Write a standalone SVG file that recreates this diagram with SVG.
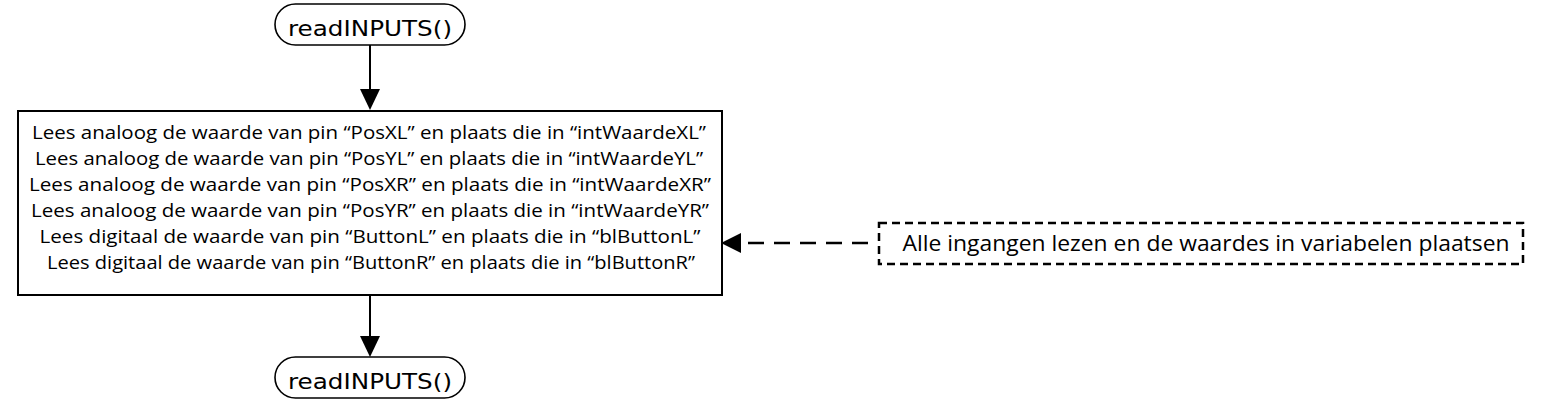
<svg xmlns="http://www.w3.org/2000/svg" width="1541" height="411" viewBox="0 0 1541 411">
<style>
.term{fill:#fff;stroke:#000;stroke-width:1.6}
.box{fill:#fff;stroke:#000;stroke-width:2}
.note{fill:#fff;stroke:#000;stroke-width:2.5;stroke-dasharray:8 5}
.tt{font-family:"DejaVu Sans",sans-serif;font-size:21px;text-anchor:middle;fill:#000}
.bt{font-family:"Open Sans","Liberation Sans",sans-serif;font-size:18px;text-anchor:middle;fill:#000}
.nt{font-family:"Open Sans","Liberation Sans",sans-serif;font-size:21px;text-anchor:middle;fill:#000}
.ln{stroke:#000;stroke-width:2;fill:none}
.dl{stroke:#000;stroke-width:2.5;fill:none;stroke-dasharray:16 10}
</style>
<g id="connectors">
<line class="ln" x1="370" y1="45" x2="370" y2="89"/>
<path d="M360,89 L380,89 L370,110 Z" fill="#000"/>
<line class="ln" x1="370" y1="295" x2="370" y2="336"/>
<path d="M360,336 L380,336 L370,357 Z" fill="#000"/>
<line class="dl" x1="868" y1="243" x2="740" y2="243"/>
<path d="M741,233 L741,253 L721,243 Z" fill="#000"/>
</g>
<g id="start">
<rect class="term" x="275" y="4" width="190" height="41" rx="20.5"/>
<text class="tt" x="370" y="36" textLength="164" lengthAdjust="spacingAndGlyphs">readINPUTS()</text>
</g>
<g id="process">
<rect class="box" x="18" y="111" width="704" height="184"/>
<text class="bt" x="369" y="139" textLength="674" lengthAdjust="spacingAndGlyphs">Lees analoog de waarde van pin “PosXL” en plaats die in “intWaardeXL”</text>
<text class="bt" x="369" y="165" textLength="668" lengthAdjust="spacingAndGlyphs">Lees analoog de waarde van pin “PosYL” en plaats die in “intWaardeYL”</text>
<text class="bt" x="370" y="191" textLength="682" lengthAdjust="spacingAndGlyphs">Lees analoog de waarde van pin “PosXR” en plaats die in “intWaardeXR”</text>
<text class="bt" x="370" y="217" textLength="678" lengthAdjust="spacingAndGlyphs">Lees analoog de waarde van pin “PosYR” en plaats die in “intWaardeYR”</text>
<text class="bt" x="370" y="243" textLength="661" lengthAdjust="spacingAndGlyphs">Lees digitaal de waarde van pin “ButtonL” en plaats die in “blButtonL”</text>
<text class="bt" x="371" y="269" textLength="648" lengthAdjust="spacingAndGlyphs">Lees digitaal de waarde van pin “ButtonR” en plaats die in “blButtonR”</text>
</g>
<g id="end">
<rect class="term" x="275" y="357" width="190" height="41" rx="20.5"/>
<text class="tt" x="370" y="389" textLength="164" lengthAdjust="spacingAndGlyphs">readINPUTS()</text>
</g>
<g id="note">
<rect class="note" x="879" y="223" width="644" height="41"/>
<text class="nt" x="1206" y="251" textLength="607" lengthAdjust="spacingAndGlyphs">Alle ingangen lezen en de waardes in variabelen plaatsen</text>
</g>
</svg>
